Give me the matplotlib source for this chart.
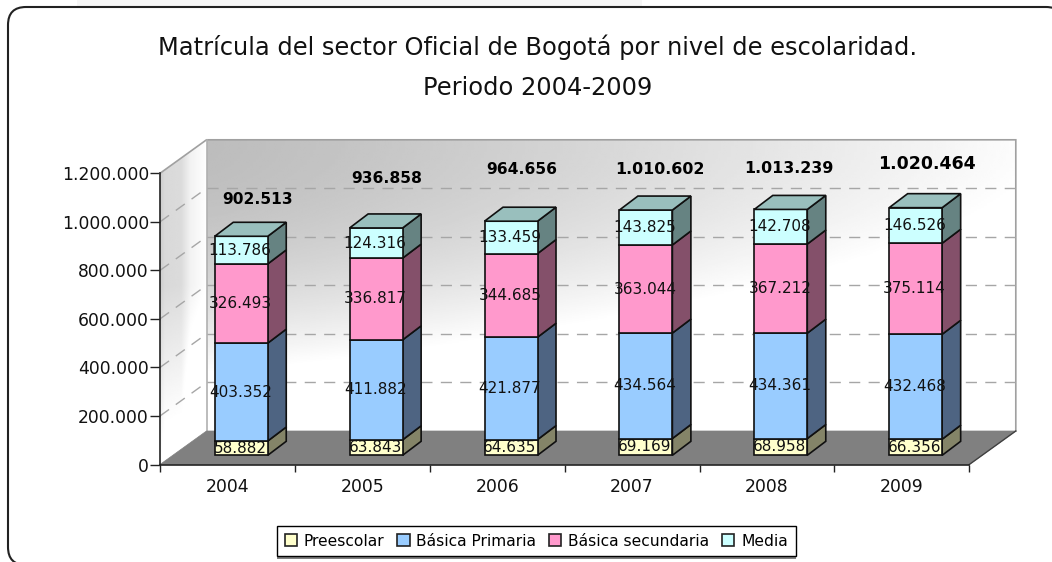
import numpy as np
import matplotlib
matplotlib.use("Agg")
import matplotlib.pyplot as plt
from matplotlib.patches import FancyBboxPatch, Polygon, Patch, Rectangle

W, H = 1052, 562
years = ["2004", "2005", "2006", "2007", "2008", "2009"]
preescolar = [58882, 63843, 64635, 69169, 68958, 66356]
primaria = [403352, 411882, 421877, 434564, 434361, 432468]
secundaria = [326493, 336817, 344685, 363044, 367212, 375114]
media = [113786, 124316, 133459, 143825, 142708, 146526]
totales = [902513, 936858, 964656, 1010602, 1013239, 1020464]
series_names = ["Preescolar", "Básica Primaria", "Básica secundaria", "Media"]
yticks = [0, 200000, 400000, 600000, 800000, 1000000, 1200000]

face = ["#FFFFCC", "#99CCFF", "#FF99CC", "#CCFFFF"]
side = ["#848468", "#4E6482", "#84506A", "#668382"]
top_col = "#99BFBD"

def fmt(v):
    return f"{v:,}".replace(",", ".")

fig = plt.figure(figsize=(W / 100, H / 100), dpi=100, facecolor="white")

# page layer in pixels
bg = fig.add_axes([0, 0, 1, 1])
bg.set_xlim(0, W); bg.set_ylim(H, 0); bg.axis("off")
bg.add_patch(Rectangle((77, 0), 565, 6, fc="#f6f6f6", ec="none"))
bg.add_patch(FancyBboxPatch((8 + 18, 7 + 18), 1056 - 36, 558 - 36,
                            boxstyle="round,pad=18,rounding_size=18",
                            fc="white", ec="#222222", lw=1.5))
bg.text(537.5, 47, "Matrícula del sector Oficial de Bogotá por nivel de escolaridad.",
        ha="center", va="center", fontsize=17.4, color="#111111")
bg.text(537.5, 88, "Periodo 2004-2009", ha="center", va="center", fontsize=17.4, color="#111111")
bg.add_patch(Rectangle((277, 556.5), 519, 2.5, fc="#808080", ec="none"))

# front plane of the 3D box
ax = fig.add_axes([160 / W, (H - 464.5) / H, 809.3 / W, 291.2 / H])
ax.patch.set_alpha(0)
ax.set_xlim(0, 6); ax.set_ylim(0, 1200000)
px_x = 6 / 809.3
px_y = 1200000 / 291.2
dx, dy = 46.5 * px_x, 33.5 * px_y
ymax = 1200000
n = 256

# back wall gradient (u: left to right, v: top to bottom)
u, v = np.meshgrid(np.linspace(0, 1, n), np.linspace(0, 1, n))
t = np.clip(0.95 * u ** 1.2 + (v / 0.8) ** 2, 0, 1)
wall = 0.74 + 0.26 * t
back_poly = Polygon([(dx, dy), (6 + dx, dy), (6 + dx, ymax + dy), (dx, ymax + dy)],
                    transform=ax.transData, fc="none", ec="none")
ax.add_patch(back_poly); back_poly.set_clip_on(False)
im = ax.imshow(wall, extent=(dx, 6 + dx, dy, ymax + dy), origin="upper", cmap="gray",
               vmin=0, vmax=1, aspect="auto", zorder=1, interpolation="bilinear")
im.set_clip_box(fig.bbox); im.set_clip_path(back_poly)

# side wall gradient
u2, v2 = np.meshgrid(np.linspace(0, 1, n), np.linspace(0, 1, n))
bands = np.interp(u2, [0, 0.1, 0.45, 0.65, 1], [0.80, 0.85, 0.86, 0.95, 1.0])
side_wall = np.clip(bands + np.clip(v2 - 0.45, 0, 1) * 0.35, 0, 1)
side_poly = Polygon([(0, 0), (dx, dy), (dx, ymax + dy), (0, ymax)],
                    transform=ax.transData, fc="none", ec="none")
ax.add_patch(side_poly); side_poly.set_clip_on(False)
im2 = ax.imshow(side_wall, extent=(0, dx, 0, ymax + dy), origin="upper", cmap="gray",
                vmin=0, vmax=1, aspect="auto", zorder=1, interpolation="bilinear")
im2.set_clip_box(fig.bbox); im2.set_clip_path(side_poly)
ax.set_xlim(0, 6); ax.set_ylim(0, 1200000)

# outline of walls and floor
ax.plot([0, dx, 6 + dx, 6 + dx], [ymax, ymax + dy, ymax + dy, dy], color="#a0a0a0", lw=1.2,
        clip_on=False, zorder=2, solid_joinstyle="miter")
ax.plot([dx, dx], [dy, ymax + dy], color="#b0b0b0", lw=1.2, clip_on=False, zorder=2)
ax.add_patch(Polygon([(0, 0), (6, 0), (6 + dx, dy), (dx, dy)], fc="#808080", ec="#808080",
                     lw=0.5, clip_on=False, zorder=3))
ax.plot([6, 6 + dx], [0, dy], color="#404040", lw=1, clip_on=False, zorder=3)

# gridlines on walls
for tick in yticks[1:-1]:
    ax.plot([dx, 6 + dx], [tick + dy, tick + dy], color="#a6a6a6", lw=1, ls=(0, (8, 6)),
            clip_on=False, zorder=2)
    ax.plot([0, dx], [tick, tick + dy], color="#a6a6a6", lw=1, ls=(0, (8, 6)),
            clip_on=False, zorder=2)

# bars
bar_off = 13.8 * px_x
bar_w = 53 * px_x
bar_base = 9.2 * px_y
bdx, bdy = 18.5 * px_x, 14 * px_y
label_gap_y = [37, 49, 52, 41, 40.6, 44]   # px from bar front top to total label
label_gap_x = [16, 11, 11, 14, 8, 11.5]    # px from bar front centre to total label
total_sizes = [11.2, 11.2, 11.2, 11.4, 11.4, 12.5]
stack = np.array([preescolar, primaria, secundaria, media], dtype=float)
edge = dict(ec="#101010", lw=1.2, joinstyle="miter", clip_on=False)
for i, year in enumerate(years):
    xc = i + 0.5 + bar_off
    x0, x1 = xc - bar_w / 2, xc + bar_w / 2
    base = bar_base
    for s in range(4):
        val = stack[s, i]
        z = 5 + s
        ax.add_patch(Polygon([(x1, base), (x1 + bdx, base + bdy), (x1 + bdx, base + val + bdy),
                              (x1, base + val)], fc=side[s], zorder=z, **edge))
        ax.add_patch(Polygon([(x0, base), (x1, base), (x1, base + val), (x0, base + val)],
                             fc=face[s], zorder=z, **edge))
        if s == 3:
            ax.add_patch(Polygon([(x0, base + val), (x1, base + val),
                                  (x1 + bdx, base + val + bdy), (x0 + bdx, base + val + bdy)],
                                 fc=top_col, zorder=z, **edge))
        base += val
    base = bar_base
    for s in range(4):
        val = stack[s, i]
        ax.text(xc - 1 * px_x, base + val / 2, fmt(int(val)), ha="center", va="center",
                fontsize=11, color="#111111", zorder=20, clip_on=False)
        base += val
    ax.annotate(fmt(totales[i]), (xc, bar_base + totales[i]),
                xytext=(label_gap_x[i] * 0.72, label_gap_y[i] * 0.72), textcoords="offset points",
                ha="center", va="center", fontsize=total_sizes[i], fontweight="bold",
                color="black", zorder=20, annotation_clip=False)

# axes
for sp in ("top", "right"):
    ax.spines[sp].set_visible(False)
for sp in ("left", "bottom"):
    ax.spines[sp].set_color("#222222"); ax.spines[sp].set_linewidth(1.2); ax.spines[sp].set_zorder(4)
ax.set_yticks(yticks, [fmt(t) for t in yticks])
ax.set_xticks(range(7), [""] * 7)
ax.set_xticks(np.arange(6) + 0.5, years, minor=True)
ax.tick_params(axis="y", length=7, width=1, color="#222222", labelsize=12.3, pad=1, labelcolor="#111111")
ax.tick_params(axis="x", which="major", length=5, width=1, color="#222222")
ax.tick_params(axis="x", which="minor", length=0, labelsize=12.4, pad=10, labelcolor="#111111")

# legend
handles = [Patch(fc=c, ec="#222222", lw=1.2) for c in face]
leg = ax.legend(handles, series_names, loc="center", ncols=4,
                bbox_to_anchor=(536.2 / W, (H - 541) / H), bbox_transform=fig.transFigure,
                frameon=True, fancybox=False, edgecolor="black", framealpha=1, fontsize=11.2,
                handlelength=0.8, handleheight=0.8, handletextpad=0.42, columnspacing=0.83,
                borderpad=0.5, borderaxespad=0)
leg.get_frame().set_linewidth(1)
leg.set_zorder(30)

fig.savefig("out.png", dpi=100)
